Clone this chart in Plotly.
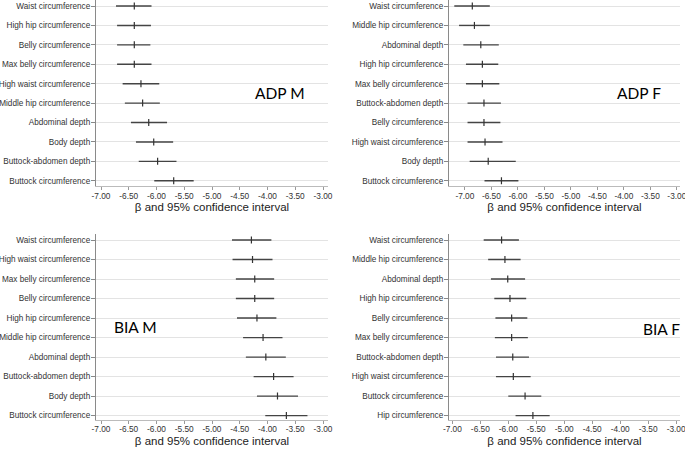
import plotly.graph_objects as go

W, H = 685, 449

# ---------------- data ----------------
adp_m_labels = ["Waist circumference", "High hip circumference", "Belly circumference",
                "Max belly circumference", "High waist circumference", "Middle hip circumference",
                "Abdominal depth", "Body depth", "Buttock-abdomen depth", "Buttock circumference"]
adp_m_beta = [-6.40, -6.40, -6.40, -6.40, -6.28, -6.25, -6.14, -6.05, -5.98, -5.69]
adp_m_lo = [-6.73, -6.71, -6.71, -6.71, -6.61, -6.57, -6.46, -6.37, -6.32, -6.04]
adp_m_hi = [-6.09, -6.10, -6.11, -6.09, -5.95, -5.94, -5.81, -5.70, -5.64, -5.33]

adp_f_labels = ["Waist circumference", "Middle hip circumference", "Abdominal depth",
                "High hip circumference", "Max belly circumference", "Buttock-abdomen depth",
                "Belly circumference", "High waist circumference", "Body depth", "Buttock circumference"]
adp_f_beta = [-6.86, -6.82, -6.70, -6.67, -6.67, -6.64, -6.64, -6.62, -6.56, -6.31]
adp_f_lo = [-7.20, -7.11, -7.03, -6.98, -6.98, -6.95, -6.95, -6.95, -6.91, -6.63]
adp_f_hi = [-6.53, -6.53, -6.36, -6.37, -6.35, -6.32, -6.33, -6.29, -6.04, -5.99]

bia_m_labels = ["Waist circumference", "High waist circumference", "Max belly circumference",
                "Belly circumference", "High hip circumference", "Middle hip circumference",
                "Abdominal depth", "Buttock-abdomen depth", "Body depth", "Buttock circumference"]
bia_m_beta = [-4.29, -4.27, -4.23, -4.23, -4.19, -4.08, -4.03, -3.89, -3.82, -3.66]
bia_m_lo = [-4.64, -4.63, -4.57, -4.57, -4.55, -4.44, -4.39, -4.25, -4.19, -4.04]
bia_m_hi = [-3.93, -3.91, -3.88, -3.88, -3.84, -3.73, -3.67, -3.53, -3.45, -3.28]

bia_f_labels = ["Waist circumference", "Middle hip circumference", "Abdominal depth",
                "High hip circumference", "Belly circumference", "Max belly circumference",
                "Buttock-abdomen depth", "High waist circumference", "Buttock circumference",
                "Hip circumference"]
bia_f_beta = [-6.12, -6.06, -6.01, -5.97, -5.94, -5.94, -5.92, -5.91, -5.70, -5.56]
bia_f_lo = [-6.44, -6.36, -6.31, -6.25, -6.23, -6.24, -6.22, -6.22, -6.00, -5.87]
bia_f_hi = [-5.81, -5.78, -5.70, -5.68, -5.66, -5.65, -5.63, -5.60, -5.41, -5.26]

x_tick_vals = [-7.0, -6.5, -6.0, -5.5, -5.0, -4.5, -4.0, -3.5, -3.0]
x_tick_text = ["-7.00", "-6.50", "-6.00", "-5.50", "-5.00", "-4.50", "-4.00", "-3.50", "-3.00"]

x_title = "β and 95% confidence interval"
panel_names = ["ADP M", "ADP F", "BIA M", "BIA F"]

# ---------------- layout geometry (pixels) ----------------
panels = [
    dict(labels=adp_m_labels, beta=adp_m_beta, lo=adp_m_lo, hi=adp_m_hi,
         px=(96, 328), py=(0, 186), xr=(-7.09, -2.91), yr=(9.27, -0.31), standoff=0,
         name_xy=(280, 93)),
    dict(labels=adp_f_labels, beta=adp_f_beta, lo=adp_f_lo, hi=adp_f_hi,
         px=(449, 680), py=(0, 186), xr=(-7.30, -2.94), yr=(9.27, -0.31), standoff=0,
         name_xy=(639, 93)),
    dict(labels=bia_m_labels, beta=bia_m_beta, lo=bia_m_lo, hi=bia_m_hi,
         px=(96, 328), py=(234, 419.5), xr=(-7.09, -2.91), yr=(9.2, -0.31), standoff=3,
         name_xy=(135, 327)),
    dict(labels=bia_f_labels, beta=bia_f_beta, lo=bia_f_lo, hi=bia_f_hi,
         px=(449, 680), py=(234, 419.5), xr=(-7.06, -2.93), yr=(9.2, -0.31), standoff=3,
         name_xy=(661, 329)),
]

fig = go.Figure()
annotations = []
for i, p in enumerate(panels):
    k = "" if i == 0 else str(i + 1)
    xa, ya = "x" + k, "y" + k
    ex_plus = [h - b for h, b in zip(p["hi"], p["beta"])]
    ex_minus = [b - l for b, l in zip(p["beta"], p["lo"])]
    fig.add_trace(go.Scatter(
        x=p["beta"], y=p["labels"], mode="markers", xaxis=xa, yaxis=ya,
        marker=dict(symbol="line-ns", size=5, line=dict(width=1.2, color="#333333"),
                    color="#333333"),
        error_x=dict(type="data", array=ex_plus, arrayminus=ex_minus, width=0,
                     thickness=1.4, color="#444444"),
        showlegend=False, hoverinfo="x+y"))
    xd = [p["px"][0] / W, p["px"][1] / W]
    yd = [1 - p["py"][1] / H, 1 - p["py"][0] / H]
    fig.layout["xaxis" + k] = dict(
        domain=xd, range=list(p["xr"]), anchor=ya, tickmode="array",
        tickvals=x_tick_vals, ticktext=x_tick_text, showgrid=False, zeroline=False,
        showline=True, linecolor="#bbbbbb", linewidth=1, ticks="outside", ticklen=3,
        tickcolor="#999999", ticklabeloverflow="allow", ticklabelstandoff=-1,
        tickfont=dict(family="Arial, Liberation Sans", size=8.3, color="#333333"),
        title=dict(text=x_title, standoff=p["standoff"],
                   font=dict(family="Arial, Liberation Sans", size=11.5, color="#222222")),
        automargin=False, fixedrange=True)
    fig.layout["yaxis" + k] = dict(
        domain=yd, range=list(p["yr"]), anchor=xa, type="category",
        categoryorder="array", categoryarray=p["labels"],
        showgrid=True, gridcolor="#e3e3e3", gridwidth=1, zeroline=False,
        showline=True, linecolor="#8a8a8a", linewidth=1.3, ticks="outside", ticklen=4,
        tickcolor="#888888", ticklabeloverflow="allow", ticklabelstandoff=-1,
        tickfont=dict(family="Arial, Liberation Sans", size=8.2, color="#333333"),
        automargin=False, fixedrange=True)
    annotations.append(dict(
        text=panel_names[i], xref="paper", yref="paper",
        x=p["name_xy"][0] / W, y=1 - p["name_xy"][1] / H, showarrow=False,
        xanchor="center", yanchor="middle",
        font=dict(family="Lato, Open Sans, sans-serif", size=15.5, color="#000000")))

fig.update_layout(
    width=W, height=H, margin=dict(l=0, r=0, t=0, b=0),
    paper_bgcolor="white", plot_bgcolor="white", annotations=annotations)

fig.write_html(
    "out.html",
    config={"displayModeBar": False},
    post_script="document.body.style.margin='0px';document.body.style.overflow='hidden';")
